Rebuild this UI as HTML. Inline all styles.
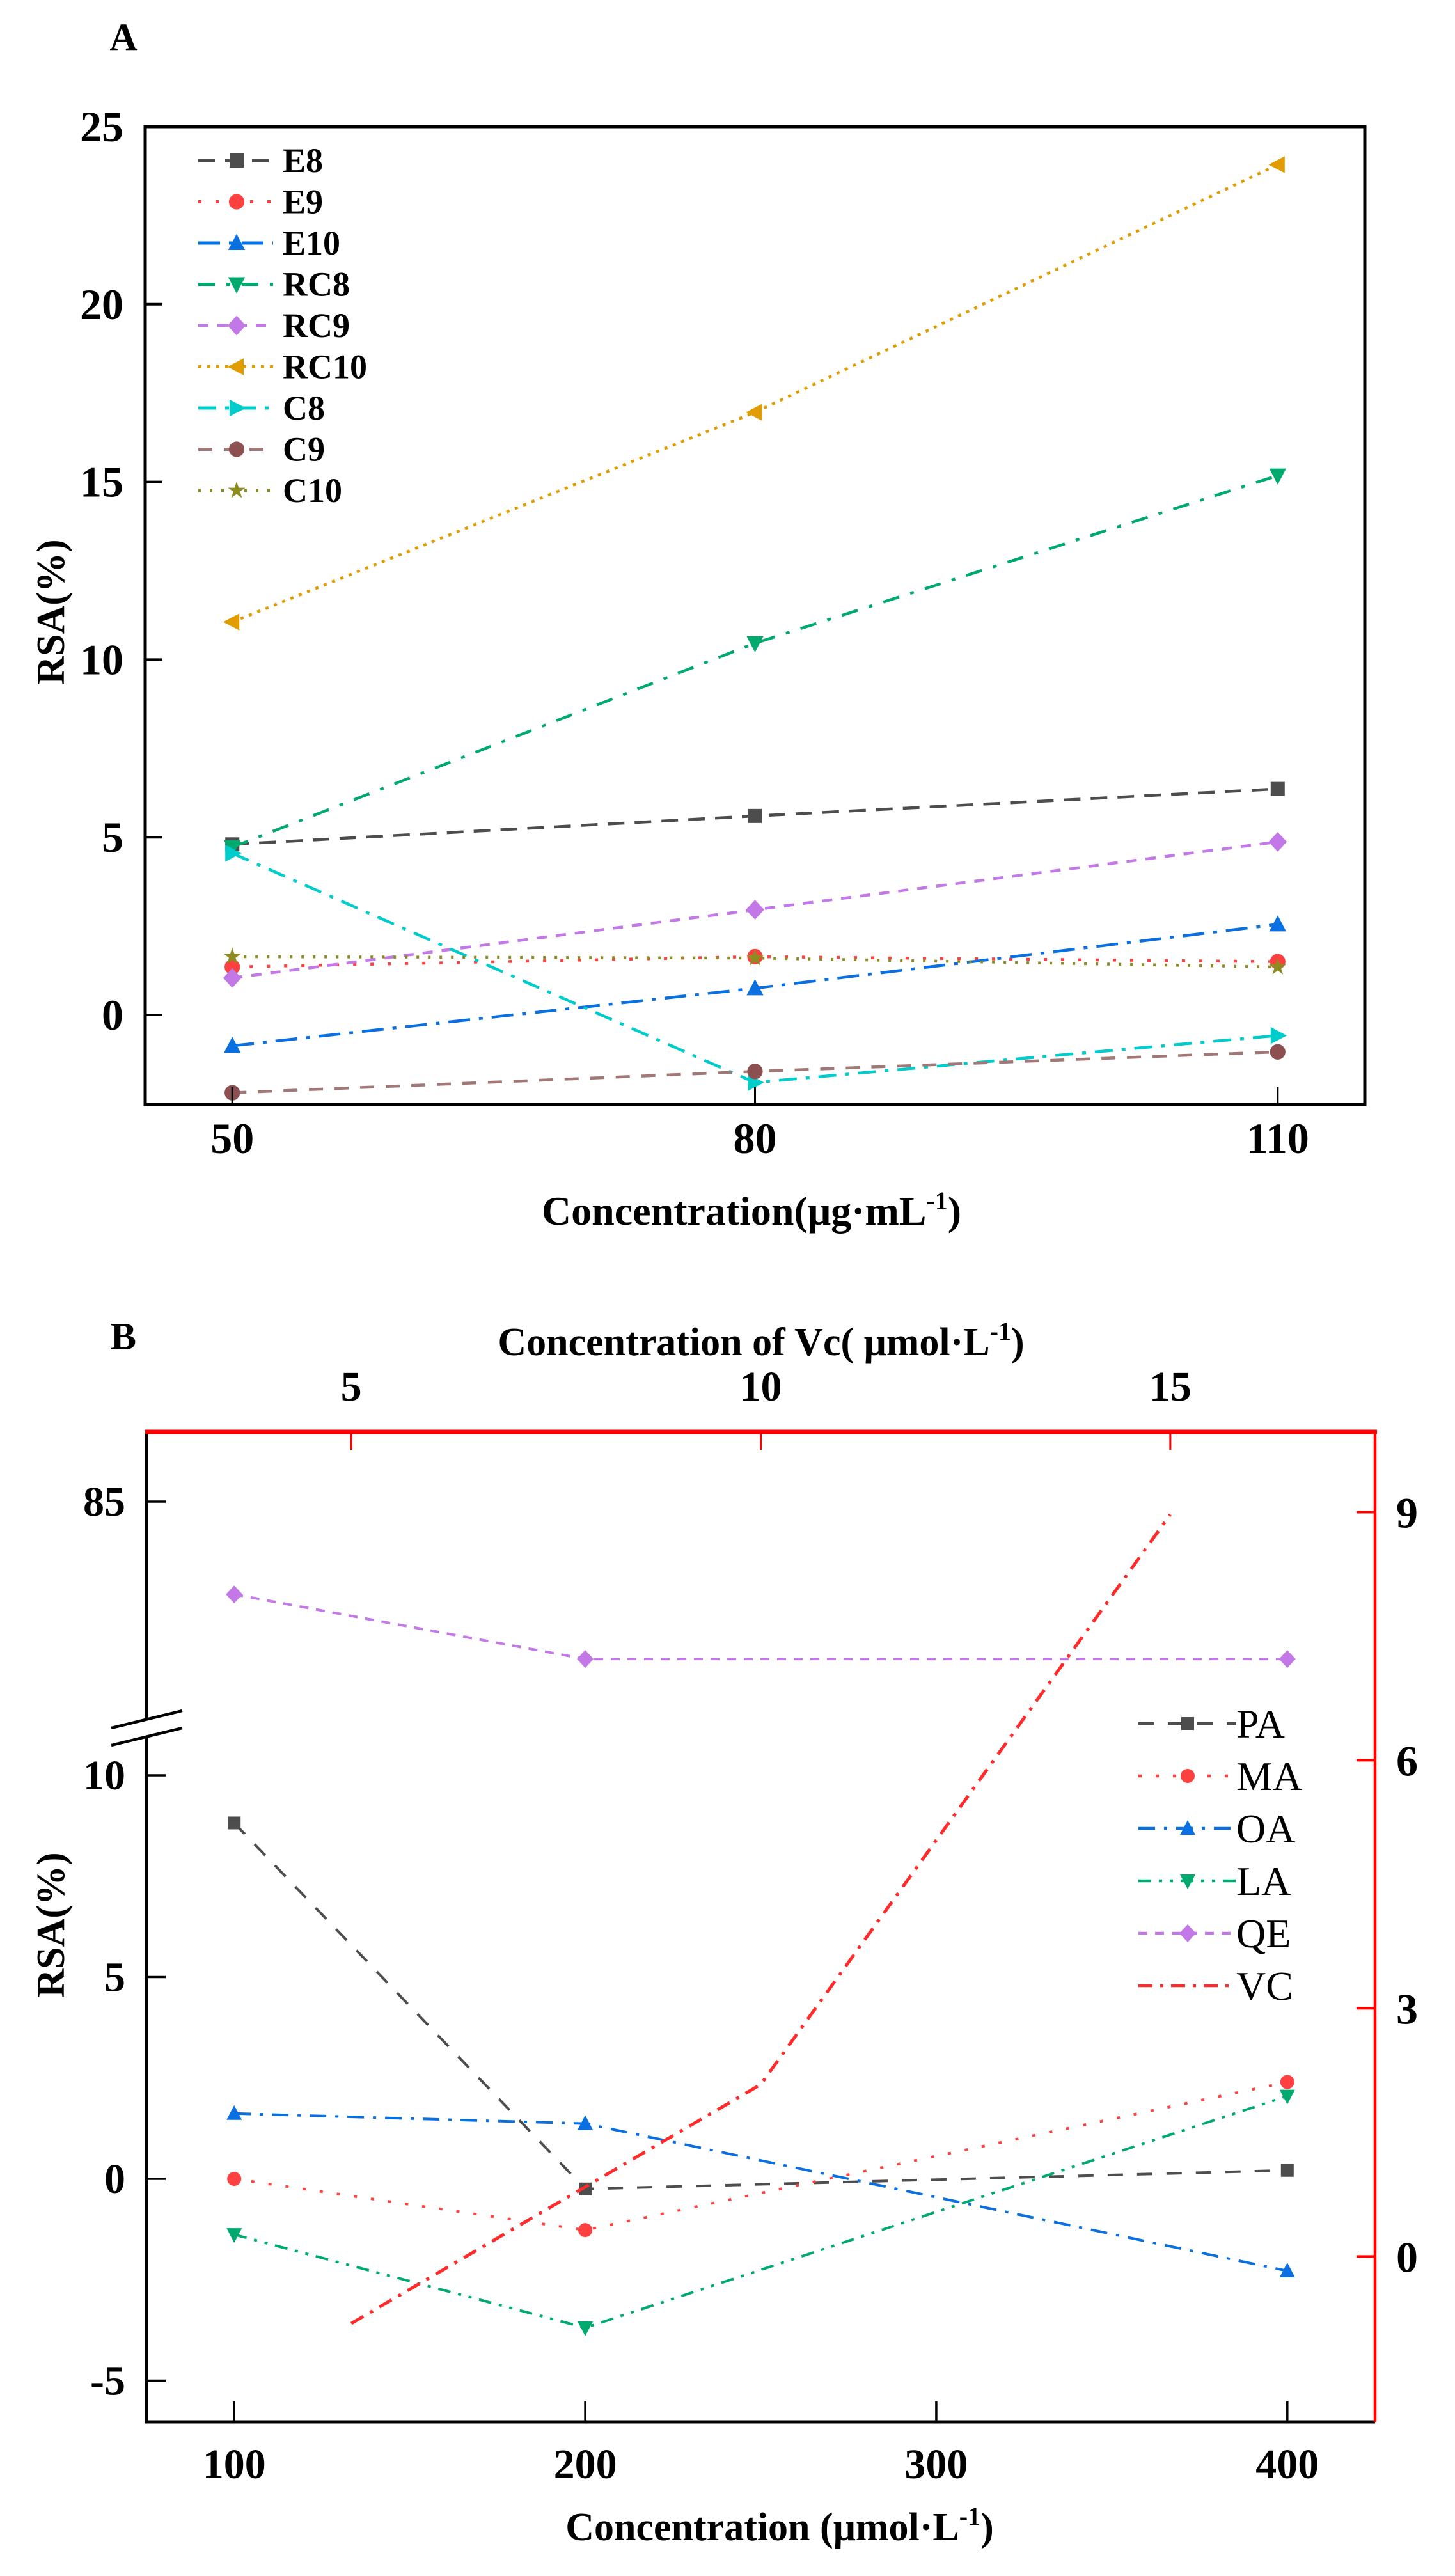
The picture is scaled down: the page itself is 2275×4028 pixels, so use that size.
<!DOCTYPE html>
<html><head><meta charset="utf-8"><style>
html,body{margin:0;padding:0;background:#fff;}
svg{display:block;}
text{font-family:"Liberation Serif",serif;}
</style></head><body>
<svg id="svg" width="2275" height="4028" viewBox="0 0 2275 4028" xmlns="http://www.w3.org/2000/svg">
<rect width="2275" height="4028" fill="#fff"/>
<g id="gA"></g>
<g id="gB"></g>
</svg>
<script>
// ---------- Chart A data ----------
const catsA = [50, 80, 110];
const xTicksA = [50, 80, 110];
const yTicksA = [0, 5, 10, 15, 20, 25];
const namesA = ["E8","E9","E10","RC8","RC9","RC10","C8","C9","C10"];
const E8 = [4.8, 5.6, 6.36];
const E9 = [1.35, 1.64, 1.5];
const E10 = [-0.87, 0.75, 2.55];
const RC8 = [4.72, 10.46, 15.18];
const RC9 = [1.04, 2.96, 4.87];
const RC10 = [11.06, 16.96, 23.93];
const C8 = [4.55, -1.9, -0.58];
const C9 = [-2.19, -1.59, -1.04];
const C10 = [1.64, 1.6, 1.35];

// ---------- Chart B data ----------
const catsB = [100, 200, 400];
const xTicksB = [100, 200, 300, 400];
const yTicksB = [-5, 0, 5, 10];
const yTicksBUpper = [85];
const topTicksB = [5, 10, 15];
const rightTicksB = [0, 3, 6, 9];
const namesB = ["PA","MA","OA","LA","QE","VC"];
const PA = [8.82, -0.25, 0.21];
const MA = [0, -1.27, 2.4];
const OA = [1.62, 1.37, -2.28];
const LA = [-1.38, -3.69, 2.05];
const QE = [82.7, 81.1, 81.1];
const vcX = [5, 10, 15];
const VC = [-0.81, 2.08, 8.97];

const NS = "http://www.w3.org/2000/svg";
function mk(parent, tag, attrs, txt){
  const e = document.createElementNS(NS, tag);
  for (const k in attrs) e.setAttribute(k, attrs[k]);
  if (txt !== undefined) e.textContent = txt;
  parent.appendChild(e);
  return e;
}
function marker(g, shape, x, y, color, s){
  let e;
  if (shape === "square") e = mk(g, "rect", {x:x-s, y:y-s, width:2*s, height:2*s, fill:color});
  else if (shape === "circle") e = mk(g, "circle", {cx:x, cy:y, r:s*1.1, fill:color});
  else if (shape === "up") e = mk(g, "polygon", {points:`${x},${y-s*1.3} ${x-s*1.2},${y+s} ${x+s*1.2},${y+s}`, fill:color});
  else if (shape === "down") e = mk(g, "polygon", {points:`${x},${y+s*1.3} ${x-s*1.2},${y-s} ${x+s*1.2},${y-s}`, fill:color});
  else if (shape === "diamond") e = mk(g, "polygon", {points:`${x},${y-s*1.4} ${x+s*1.3},${y} ${x},${y+s*1.4} ${x-s*1.3},${y}`, fill:color});
  else if (shape === "left") e = mk(g, "polygon", {points:`${x-s*1.3},${y} ${x+s},${y-s*1.2} ${x+s},${y+s*1.2}`, fill:color});
  else if (shape === "right") e = mk(g, "polygon", {points:`${x+s*1.3},${y} ${x-s},${y-s*1.2} ${x-s},${y+s*1.2}`, fill:color});
  else if (shape === "star") {
    let p=[]; for(let i=0;i<10;i++){const r=i%2?s*0.5:s*1.3;const a=-Math.PI/2+i*Math.PI/5;p.push((x+r*Math.cos(a)).toFixed(1)+","+(y+r*Math.sin(a)).toFixed(1));}
    e = mk(g, "polygon", {points:p.join(" "), fill:color});
  }
  return e;
}

// ================= Chart A =================
(function(){
  const g = document.getElementById("gA");
  const L=227, R=2134, T=198, B=1727;
  const xMin=45, xMax=115, yMin=-2.52, yMax=25;
  const X = v => L + (v-xMin)/(xMax-xMin)*(R-L);
  const Y = v => B - (v-yMin)/(yMax-yMin)*(B-T);
  const series = [
    {d:E8, c:"#4d4d4d", m:"square", dash:"26 16"},
    {d:E9, c:"#ff4040", m:"circle", dash:"5 22"},
    {d:E10, c:"#0a6fe0", m:"up", dash:"34 14 6 14"},
    {d:RC8, c:"#00aa6e", m:"down", dash:"26 18 6 18"},
    {d:RC9, c:"#c278e6", m:"diamond", dash:"16 14"},
    {d:RC10, c:"#e09c00", m:"left", dash:"5 9"},
    {d:C8, c:"#00cccc", m:"right", dash:"28 14 6 14"},
    {d:C9, c:"#a07878", m:"circle", dash:"22 18", mc:"#8c5050"},
    {d:C10, c:"#8c8c20", m:"star", dash:"4 14"}
  ];
  series.forEach((s,i)=>{
    const sg = mk(g,"g",{});
    
    
    const pts = s.d.map((v,j)=>X(catsA[j]).toFixed(1)+","+Y(v).toFixed(1)).join(" ");
    mk(sg,"polyline",{points:pts, fill:"none", stroke:s.c, "stroke-width":4.5, "stroke-dasharray":s.dash});
    s.d.forEach((v,j)=>{
      const m = marker(sg, s.m, X(catsA[j]), Y(v), s.mc||s.c, 11);
      
      
    });
  });
  // frame
  const fr = mk(g,"rect",{x:L,y:T,width:R-L,height:B-T,fill:"none",stroke:"#000","stroke-width":5});
   
  yTicksA.forEach(v=>{
    mk(g,"line",{x1:L,y1:Y(v),x2:L+27,y2:Y(v),stroke:"#000","stroke-width":4});
    const t = mk(g,"text",{x:193,y:Y(v)+23,"text-anchor":"end","font-size":68,"font-weight":"bold"}, String(v));
     
  });
  xTicksA.forEach(v=>{
    mk(g,"line",{x1:X(v),y1:B,x2:X(v),y2:B-27,stroke:"#000","stroke-width":3});
    const t = mk(g,"text",{x:X(v),y:1803,"text-anchor":"middle","font-size":68,"font-weight":"bold"}, String(v));
     
  });
  // legend
  const lg = mk(g,"g",{});  
  series.forEach((s,i)=>{
    const y = 251 + i*64.5;
    const eg = mk(lg,"g",{});  
    mk(eg,"line",{x1:310,y1:y,x2:427,y2:y,stroke:s.c,"stroke-width":5,"stroke-dasharray":s.dash});
    marker(eg, s.m, 370, y, s.mc||s.c, 11);
    mk(eg,"text",{x:442,y:y+18,"font-size":54,"font-weight":"bold"}, namesA[i]);
  });
  const yt = mk(g,"text",{x:0,y:0,"text-anchor":"middle","font-size":62,"font-weight":"bold",transform:"translate(100,957) rotate(-90)"},"RSA(%)");
   
  const xt = mk(g,"text",{x:1175,y:1915,"text-anchor":"middle","font-size":64,"font-weight":"bold"});
   
  mk(xt,"tspan",{},"Concentration(μg·mL");
  mk(xt,"tspan",{dy:-24,"font-size":40},"-1");
  mk(xt,"tspan",{dy:24},")");
  const pl = mk(g,"text",{x:193,y:78,"text-anchor":"middle","font-size":60,"font-weight":"bold"},"A");
   
})();

// ================= Chart B =================
(function(){
  const g = document.getElementById("gB");
  const L=229, R=2150, T=2239, B=3787;
  const xMin=75, xMax=425;
  const X = v => L + (v-xMin)/(xMax-xMin)*(R-L);
  const tMin=2.5, tMax=17.5;
  const XT = v => L + (v-tMin)/(tMax-tMin)*(R-L);
  const pxU = 63.1, y0 = 3407;
  const Y = v => v < 50 ? y0 - v*pxU : 2348 + (85 - v)*pxU;
  const rMin=-2.0, rMax=9.97;
  const YR = v => B - (v-rMin)/(rMax-rMin)*(B-T);
  const series = [
    {n:"PA", d:PA, c:"#4d4d4d", m:"square", dash:"24 22"},
    {n:"MA", d:MA, c:"#ff4040", m:"circle", dash:"5 22"},
    {n:"OA", d:OA, c:"#0a6fe0", m:"up", dash:"26 14 5 14"},
    {n:"LA", d:LA, c:"#00aa6e", m:"down", dash:"20 12 5 12 5 12"},
    {n:"QE", d:QE, c:"#c278e6", m:"diamond", dash:"14 12"}
  ];
  series.forEach((s,i)=>{
    const sg = mk(g,"g",{});
    
    
    const pts = s.d.map((v,j)=>X(catsB[j]).toFixed(1)+","+Y(v).toFixed(1)).join(" ");
    mk(sg,"polyline",{points:pts,fill:"none",stroke:s.c,"stroke-width":4,"stroke-dasharray":s.dash});
    s.d.forEach((v,j)=>{
      const m = marker(sg, s.m, X(catsB[j]), Y(v), s.c, 10);
      
      
    });
  });
  const vg = mk(g,"g",{});  
  mk(vg,"polyline",{points:VC.map((v,j)=>XT(vcX[j]).toFixed(1)+","+YR(v).toFixed(1)).join(" "),fill:"none",stroke:"#ff2a2a","stroke-width":5,"stroke-dasharray":"22 12 5 12"});
  // axes
  const bottom = mk(g,"line",{x1:L-2,y1:B,x2:R,y2:B,stroke:"#000","stroke-width":5});
   
  const left1 = mk(g,"line",{x1:L,y1:T,x2:L,y2:2688,stroke:"#000","stroke-width":4.5});
   
  const left2 = mk(g,"line",{x1:L,y1:2716,x2:L,y2:B,stroke:"#000","stroke-width":4.5});
   
  const br = mk(g,"g",{});  
  mk(br,"line",{x1:174,y1:2702,x2:285,y2:2675,stroke:"#000","stroke-width":4.5});
  mk(br,"line",{x1:174,y1:2729,x2:285,y2:2702,stroke:"#000","stroke-width":4.5});
  const top = mk(g,"line",{x1:L-2,y1:T,x2:R+3,y2:T,stroke:"#ff0000","stroke-width":7});
   
  const right = mk(g,"line",{x1:R,y1:T,x2:R,y2:B,stroke:"#ff0000","stroke-width":4.5});
   
  yTicksB.concat(yTicksBUpper).forEach(v=>{
    mk(g,"line",{x1:L,y1:Y(v),x2:L+30,y2:Y(v),stroke:"#000","stroke-width":3.5});
    const t = mk(g,"text",{x:196,y:Y(v)+22,"text-anchor":"end","font-size":66,"font-weight":"bold"},String(v));
     
  });
  xTicksB.forEach(v=>{
    mk(g,"line",{x1:X(v),y1:B,x2:X(v),y2:B-32,stroke:"#000","stroke-width":3.5});
    const t = mk(g,"text",{x:X(v),y:3875,"text-anchor":"middle","font-size":66,"font-weight":"bold"},String(v));
     
  });
  topTicksB.forEach(v=>{
    mk(g,"line",{x1:XT(v),y1:T,x2:XT(v),y2:T+28,stroke:"#ff0000","stroke-width":3});
    const t = mk(g,"text",{x:XT(v),y:2190,"text-anchor":"middle","font-size":66,"font-weight":"bold"},String(v));
     
  });
  rightTicksB.forEach(v=>{
    mk(g,"line",{x1:R,y1:YR(v),x2:R-29,y2:YR(v),stroke:"#ff0000","stroke-width":4});
    const t = mk(g,"text",{x:2200,y:YR(v)+24,"text-anchor":"middle","font-size":68,"font-weight":"bold"},String(v));
     
  });
  // legend
  const lg = mk(g,"g",{});  
  const leg = series.concat([{n:"VC",c:"#ff2a2a",m:null,dash:"22 12 5 12"}]);
  leg.forEach((s,i)=>{
    const y = 2695 + i*82;
    const eg = mk(lg,"g",{});  
    mk(eg,"line",{x1:1780,y1:y,x2:1933,y2:y,stroke:s.c,"stroke-width":4.5,"stroke-dasharray":s.dash});
    if (s.m) marker(eg, s.m, 1857, y, s.c, 10);
    mk(eg,"text",{x:1933,y:y+22,"font-size":64},s.n);
  });
  const yt = mk(g,"text",{x:0,y:0,"text-anchor":"middle","font-size":62,"font-weight":"bold",transform:"translate(100,3010) rotate(-90)"},"RSA(%)");
   
  const xt = mk(g,"text",{x:1219,y:3972,"text-anchor":"middle","font-size":62,"font-weight":"bold"});
   
  mk(xt,"tspan",{},"Concentration (μmol·L");
  mk(xt,"tspan",{dy:-24,"font-size":40},"-1");
  mk(xt,"tspan",{dy:24},")");
  const tt = mk(g,"text",{x:1190,y:2119,"text-anchor":"middle","font-size":62,"font-weight":"bold"});
   
  mk(tt,"tspan",{},"Concentration of Vc( μmol·L");
  mk(tt,"tspan",{dy:-24,"font-size":40},"-1");
  mk(tt,"tspan",{dy:24},")");
  const pl = mk(g,"text",{x:193,y:2110,"text-anchor":"middle","font-size":60,"font-weight":"bold"},"B");
   
})();
</script>
</body></html>
